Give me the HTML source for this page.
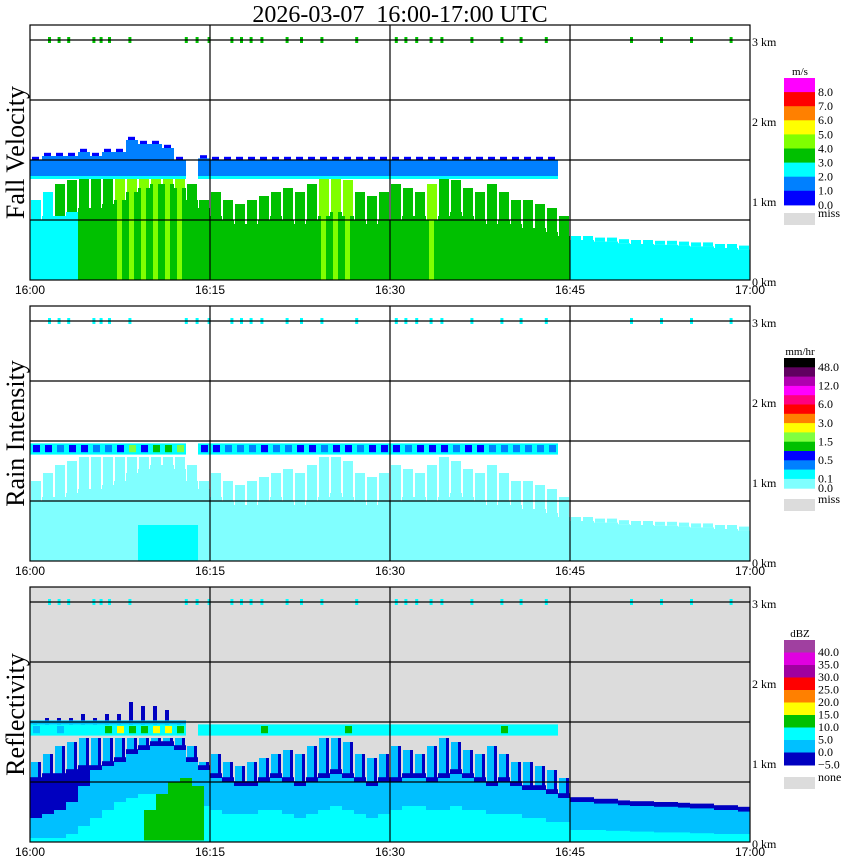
<!DOCTYPE html>
<html><head><meta charset="utf-8"><style>
body{margin:0;background:#fff;width:850px;height:868px;overflow:hidden}
svg{display:block}
.t{font-family:"Liberation Serif",serif}
.s{font-family:"Liberation Sans",sans-serif}
</style></head><body>
<svg id="chart" width="850" height="868" xmlns="http://www.w3.org/2000/svg">
<text class="t" x="400" y="22" font-size="24" text-anchor="middle" style="white-space:pre" xml:space="preserve">2026-03-07  16:00-17:00 UTC</text>
</svg>
<script>
// ---- data (per minute from 16:00, 60 values) ----
const minutes = Array.from({length:60},(_,i)=>i);
const timeLabels = ["16:00","16:15","16:30","16:45","17:00"];
const heightLabels = ["0 km","1 km","2 km","3 km"];
const solidTop = [0.75,0.8,0.8,0.85,0.9, 0.9,0.95,1.0,1.1,1.15,1.2,1.2,1.15,1.0,0.9,
 0.8,0.75,0.7,0.7,0.75,0.8,0.75,0.7,0.75,0.8,0.85,0.8,0.75,0.7,0.75,
 0.75,0.8,0.8,0.75,0.8,0.85,0.8,0.75,0.7,0.75,0.7,0.65,0.65,0.6,0.55,
 0.5,0.5,0.48,0.48,0.46,0.45,0.45,0.44,0.44,0.43,0.42,0.42,0.4,0.4,0.38];
const echoTop = [1.0,1.1,1.2,1.25,1.3,1.3,1.3,1.3,1.3,1.3,1.3,1.3,1.3,1.2,1.0,
 1.1,1.0,0.95,1.0,1.05,1.1,1.15,1.1,1.2,1.3,1.3,1.25,1.1,1.05,1.1,
 1.2,1.15,1.1,1.2,1.3,1.25,1.15,1.1,1.2,1.1,1.0,1.0,0.95,0.9,0.8,
 0.55,0.55,0.53,0.53,0.51,0.5,0.5,0.49,0.49,0.48,0.47,0.47,0.45,0.45,0.43];
const velLow = [2,2,2,2,3,3,3,3,3,3,3,3,3,3,3,3,3,3,3,3,3,3,3,3,3,3,3,3,3,3,
 3,3,3,3,3,3,3,3,3,3,3,3,3,3,3,2,2,2,2,2,2,2,2,2,2,2,2,2,2,2];
const velStreak = [2,2,3,3,3,3,3,4,4,4,4,4,4,3,3,3,3,3,3,3,3,3,3,3,4,4,4,3,3,3,
 3,3,3,4,3,3,3,3,3,3,3,3,3,3,3,2,2,2,2,2,2,2,2,2,2,2,2,2,2,2];
const bandTop = [1.5,1.55,1.55,1.55,1.6,1.55,1.6,1.6,1.75,1.7,1.7,1.65,1.5,null,1.52,
 1.5,1.5,1.5,1.5,1.5,1.5,1.5,1.5,1.5,1.5,1.5,1.5,1.5,1.5,1.5,
 1.5,1.5,1.5,1.5,1.5,1.5,1.5,1.5,1.5,1.5,1.5,1.5,1.5,1.5,null,
 null,null,null,null,null,null,null,null,null,null,null,null,null,null,null];
const rainBand = [3,3,2,3,3,2,2,3,5,3,4,4,5,0,3,3,2,2,2,3,2,2,3,3,2,3,3,2,3,3,3,2,3,3,3,2,3,3,2,2,2,2,2,2,0];
const reflBand = [1,2,1,2,2,2,3,4,3,3,4,4,3,0,2,2,2,2,2,3,2,2,2,2,2,2,3,2,2,2,2,2,2,2,2,2,2,2,2,3,2,2,2,2,0];
const reflCyanTop = [0.05,0.05,0.05,0.1,0.2,0.3,0.4,0.5,0.55,0.6,0.6,0.6,0.55,0.5,0.45,
 0.4,0.35,0.35,0.35,0.4,0.4,0.35,0.3,0.35,0.4,0.45,0.4,0.35,0.3,0.35,
 0.4,0.45,0.45,0.4,0.4,0.45,0.4,0.4,0.35,0.35,0.35,0.3,0.3,0.25,0.25,
 0.15,0.15,0.15,0.14,0.14,0.13,0.13,0.12,0.12,0.12,0.11,0.11,0.1,0.1,0.1];
const reflDarkFrom = [0.3,0.35,0.4,0.5,0.7];
const greenBlobFrom = 9.5, greenBlobTop = [0.4,0.6,0.75,0.8,0.7];
const speckMinutes = [1.5,2.3,3.1,5.2,5.8,6.5,8.2,12.9,13.8,14.8,16.7,17.5,18.3,19.2,21.3,22.5,24.2,27.1,30.4,31.2,32.1,33.3,34.2,36.7,39.2,40.8,42.9,50,52.5,55,58.3];
const velColors = ["#0000ff","#0080ff","#00ffff","#00c000","#80ff00","#ffff00","#ff8000","#ff0000","#ff00ff"];
const velTicks = ["8.0","7.0","6.0","5.0","4.0","3.0","2.0","1.0","0.0"];
const rainColors = ["#80ffff","#00ffff","#0080ff","#0000ff","#00c000","#80ff40","#ffff00","#ff8000","#ff0000","#ff0080","#ff00ff","#b000b0","#600060","#000000"];
const rainTicks = ["48.0","12.0","6.0","3.0","1.5","0.5","0.1"];
const reflColors = ["#0000c0","#00c0ff","#00ffff","#00c000","#ffff00","#ff8000","#ff0000","#a000a0","#e000e0","#a040a0"];
const reflTicks = ["40.0","35.0","30.0","25.0","20.0","15.0","10.0","5.0","0.0","\u22125.0"];

const svg=document.getElementById('chart');
const NS='http://www.w3.org/2000/svg';
const X0=30, PX_MIN=12;
const xs=m=>X0+m*PX_MIN;
const panelOff=[0,281,562];
const yk=(p,km)=>panelOff[p]+280-km*80;
function mk(tag,attrs,parent){const e=document.createElementNS(NS,tag);for(const k in attrs)e.setAttribute(k,attrs[k]);(parent||svg).appendChild(e);return e;}
function rect(g,x,y,w,h,fill){return mk('rect',{x:x,y:y,width:w,height:Math.max(0,h),fill:fill},g);}

const titles=["Fall Velocity","Rain Intensity","Reflectivity"];
for(let p=0;p<3;p++){
  const g=mk('g',{});
  
  
  const top=yk(p,3.1875), bot=yk(p,0);
  const bg=rect(g,X0,top,720,bot-top,p===2?'#dcdcdc':'#ffffff');
  
  
  const data=mk('g',{},g);
  
  
  minutes.forEach(m=>{
    const x=xs(m);
    const st=solidTop[m], et=echoTop[m];
    if(p===0){
      rect(data,x+1,yk(0,et),10,yk(0,st)-yk(0,et),velColors[velStreak[m]]);
      rect(data,x,yk(0,st),12,yk(0,0)-yk(0,st),velColors[velLow[m]]);
      if(velStreak[m]===4) rect(data,x+3,yk(0,st),5,yk(0,0)-yk(0,st),velColors[4]);
    } else if(p===1){
      rect(data,x+1,yk(1,et),10,yk(1,st)-yk(1,et),rainColors[0]);
      rect(data,x,yk(1,st),12,yk(1,0)-yk(1,st),rainColors[0]);
    } else {
      rect(data,x+1,yk(2,et),8,yk(2,st)-yk(2,et),reflColors[1]);
      rect(data,x+8,yk(2,et),3,yk(2,st)-yk(2,et),reflColors[0]);
      rect(data,x,yk(2,st+0.06),12,yk(2,0)-yk(2,st+0.06),reflColors[0]);
      rect(data,x,yk(2,st),12,yk(2,0)-yk(2,st),reflColors[1]);
      if(m<reflDarkFrom.length) rect(data,x,yk(2,st),12,yk(2,reflDarkFrom[m])-yk(2,st),reflColors[0]);
      rect(data,x,yk(2,reflCyanTop[m]),12,yk(2,0)-yk(2,reflCyanTop[m]),reflColors[2]);
    }
    const bt=bandTop[m];
    if(bt!=null){
      if(p===0){
        rect(data,x,yk(0,bt),12,yk(0,1.3)-yk(0,bt),velColors[1]);
        rect(data,x+2,yk(0,bt+0.04),7,yk(0,bt)-yk(0,bt+0.04),velColors[0]);
        rect(data,x,yk(0,1.3),12,3,velColors[2]);
      } else {
        const c=p===1?rainColors[rainBand[m]]:reflColors[reflBand[m]];
        rect(data,x,yk(p,1.47),12,yk(p,1.33)-yk(p,1.47),p===1?rainColors[1]:reflColors[2]);
        rect(data,x+3,yk(p,1.45),7,yk(p,1.36)-yk(p,1.45),c);
        if(p===2 && m<13){ rect(data,x+3,yk(2,bt),4,yk(2,1.47)-yk(2,bt),reflColors[0]); rect(data,x,yk(2,1.52),12,yk(2,1.47)-yk(2,1.52),reflColors[1]); }
      }
    }
  });
  if(p===1){ for(let m=9;m<14;m++) rect(data,xs(m),yk(1,0.45),12,yk(1,0)-yk(1,0.45),rainColors[1]); }
  if(p===2){
    greenBlobTop.forEach((t,i)=>{const x=xs(greenBlobFrom+i);rect(data,x,yk(2,t),12,yk(2,0.02)-yk(2,t),reflColors[3]);});
  }
  speckMinutes.forEach(sm=>{
    rect(data,xs(sm),yk(p,3)-3,3,6,p===0?velColors[3]:rainColors[1]);
  });
  for(let k=0;k<4;k++){const y=yk(p,0.75+k*0.75);mk('line',{x1:X0,x2:X0+720,y1:y,y2:y,stroke:'#000','stroke-width':1.2},g);}
  for(let k=1;k<4;k++){const x=xs(k*15);mk('line',{x1:x,x2:x,y1:top,y2:bot,stroke:'#000','stroke-width':1.2},g);}
  const fr=mk('rect',{x:X0,y:top,width:720,height:bot-top,fill:'none',stroke:'#000','stroke-width':1.2},g);
  
  
  timeLabels.forEach((t,i)=>{const e=mk('text',{x:xs(i*15),y:bot+14,'font-size':12,'text-anchor':'middle',class:'s'},g);e.textContent=t;
    
    });
  heightLabels.forEach((t,i)=>{const e=mk('text',{x:752,y:yk(p,i)+6,'font-size':12,class:'t'},g);e.textContent=t;
    
    });
  const ti=mk('text',{x:0,y:0,'font-size':26,'text-anchor':'middle',class:'t',transform:`translate(24,${(top+bot)/2}) rotate(-90)`},g);
  ti.textContent=titles[p];
  
  
}
function legend(name,unit,colors,ticks,top,h,tickStart,tickStep,missY,missLabel,extraTick){
  const g=mk('g',{});
  
  
  const u=mk('text',{x:800,y:top-3,'font-size':11,'text-anchor':'middle',class:'t'},g);u.textContent=unit;
  const n=colors.length;
  for(let i=0;i<n;i++){const r=rect(g,784,top+i*h,31,h+0.5,colors[n-1-i]);
    
    }
  ticks.forEach((t,i)=>{const e=mk('text',{x:818,y:tickStart+i*tickStep+4,'font-size':12,class:'t'},g);e.textContent=t;});
  if(extraTick){const e=mk('text',{x:818,y:extraTick[1]+4,'font-size':12,class:'t'},g);e.textContent=extraTick[0];}
  rect(g,784,missY,31,12,'#dcdcdc');
  const ml=mk('text',{x:818,y:missY+4,'font-size':12,class:'t'},g);ml.textContent=missLabel;
}
legend('velocity-legend','m/s',velColors,velTicks,78,14.1,92,14.1,213,'miss');
legend('rain-legend','mm/hr',rainColors,rainTicks,358,9.3,367,18.6,499,'miss',["0.0",488]);
legend('reflectivity-legend','dBZ',reflColors,reflTicks,640,12.5,652,12.5,777,'none');
</script>
</body></html>
